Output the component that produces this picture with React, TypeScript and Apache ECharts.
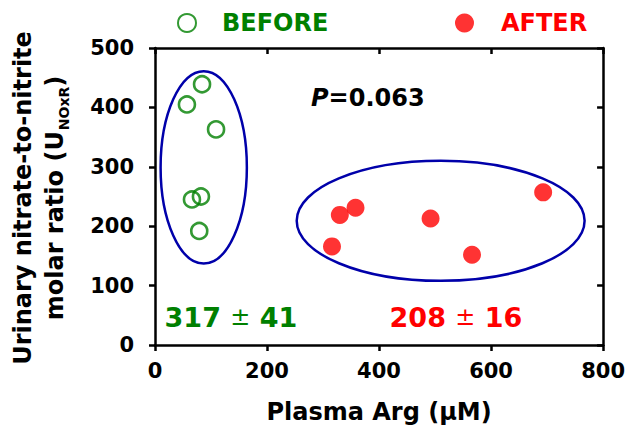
import React, { useEffect, useRef } from "react";
import * as echarts from "echarts";

// ---- Data ----
const beforeArg = [84, 57, 109, 66, 82, 79];
const beforeRatio = [439, 405, 363, 245, 250, 192];
const afterArg = [330, 358, 316, 492, 566, 693];
const afterRatio = [219, 231, 166, 213, 152, 257];

// Group ellipses: center x, center y, radius x, radius y (data units)
const ellipseCx = [87, 510];
const ellipseCy = [299, 209];
const ellipseRx = [77, 257];
const ellipseRy = [162, 101];

const xMin = 0;
const xMax = 800;
const xStep = 200;
const yMin = 0;
const yMax = 500;
const yStep = 100;

const beforeMean = "317";
const beforeSem = "41";
const afterMean = "208";
const afterSem = "16";
const pValue = "0.063";

const GREEN = "#008000";
const RED = "#ff0000";
const BLUE = "#0000aa";
const FONT = "'DejaVu Sans', Verdana, sans-serif";

export default function App() {
  const ref = useRef<HTMLDivElement>(null);

  useEffect(() => {
    if (!ref.current) return;
    const chart = echarts.init(ref.current, undefined, { renderer: "svg" });

    const axisLine = { show: true, onZero: false, lineStyle: { color: "#000", width: 2.5 } };
    const tickStyle = { color: "#000", width: 2.5 };
    const labelStyle = { color: "#000", fontSize: 21, fontWeight: "bold", fontFamily: FONT };

    const ellipseData = ellipseCx.map((cx, i) => [cx, ellipseCy[i], ellipseRx[i], ellipseRy[i]]);

    chart.setOption({
      animation: false,
      backgroundColor: "#fff",
      grid: { left: 155, right: 23, top: 48, bottom: 82, containLabel: false },
      legend: [
        {
          data: [{ name: "BEFORE", textStyle: { color: GREEN } }],
          left: 177,
          top: 11,
          padding: 0,
          itemWidth: 18,
          itemHeight: 18,
          textStyle: { fontSize: 24, fontWeight: "bold", fontFamily: FONT, padding: [0, 0, 0, 21] },
        },
        {
          data: [{ name: "AFTER", textStyle: { color: RED } }],
          left: 455,
          top: 11,
          padding: 0,
          itemWidth: 19,
          itemHeight: 19,
          textStyle: { fontSize: 24, fontWeight: "bold", fontFamily: FONT, padding: [0, 0, 0, 22] },
        },
      ],
      xAxis: [
        {
          type: "value",
          position: "bottom",
          min: xMin,
          max: xMax,
          interval: xStep,
          axisLine,
          axisTick: { show: true, inside: false, length: 6, lineStyle: tickStyle },
          axisLabel: { ...labelStyle, margin: 15 },
          splitLine: { show: false },
          name: "Plasma Arg (μM)",
          nameLocation: "middle",
          nameGap: 55,
          nameTextStyle: { color: "#000", fontSize: 24, fontWeight: "bold", fontFamily: FONT },
        },
        {
          type: "value",
          position: "top",
          min: xMin,
          max: xMax,
          interval: xStep,
          axisLine,
          axisTick: { show: true, inside: true, length: 6, lineStyle: tickStyle },
          axisLabel: { show: false },
          splitLine: { show: false },
        },
      ],
      yAxis: [
        {
          type: "value",
          position: "left",
          min: yMin,
          max: yMax,
          interval: yStep,
          axisLine,
          axisTick: { show: true, inside: false, length: 6, lineStyle: tickStyle },
          axisLabel: { ...labelStyle, margin: 21 },
          splitLine: { show: false },
        },
        {
          type: "value",
          position: "right",
          min: yMin,
          max: yMax,
          interval: yStep,
          axisLine,
          axisTick: { show: true, inside: true, length: 6, lineStyle: tickStyle },
          axisLabel: { show: false },
          splitLine: { show: false },
        },
      ],
      series: [
        {
          type: "custom",
          name: "groups",
          xAxisIndex: 0,
          yAxisIndex: 0,
          silent: true,
          z: 1,
          data: ellipseData,
          renderItem: (params: any, api: any) => {
            const c = api.coord([api.value(0), api.value(1)]);
            const s = api.size([api.value(2), api.value(3)]);
            return {
              type: "ellipse",
              shape: { cx: c[0], cy: c[1], rx: s[0], ry: s[1] },
              style: { fill: "none", stroke: BLUE, lineWidth: 2.5 },
            };
          },
        },
        {
          type: "scatter",
          name: "BEFORE",
          xAxisIndex: 0,
          yAxisIndex: 0,
          z: 3,
          symbol: "circle",
          symbolSize: 16,
          itemStyle: { color: "rgba(255,255,255,0)", borderColor: GREEN, borderWidth: 2.6 },
          data: beforeArg.map((x, i) => [x, beforeRatio[i]]),
        },
        {
          type: "scatter",
          name: "AFTER",
          xAxisIndex: 0,
          yAxisIndex: 0,
          z: 3,
          symbol: "circle",
          symbolSize: 18,
          itemStyle: { color: RED },
          data: afterArg.map((x, i) => [x, afterRatio[i]]),
        },
      ],
      graphic: [
        {
          type: "text",
          x: 39,
          y: 198,
          rotation: Math.PI / 2,
          style: {
            text: "{a|Urinary nitrate-to-nitrite}\n{a|molar ratio (U}{s|NOxR}{a|)}",
            align: "center",
            verticalAlign: "middle",
            fill: "#000",
            rich: {
              a: { fontSize: 24, fontWeight: "bold", fontFamily: FONT, fill: "#000", lineHeight: 32 },
              s: {
                fontSize: 14,
                fontWeight: "bold",
                fontFamily: FONT,
                fill: "#000",
                lineHeight: 14,
                verticalAlign: "bottom",
                padding: [6, 0, 0, 1],
              },
            },
          },
        },
        {
          type: "text",
          x: 311,
          y: 98,
          style: {
            text: "{i|P}{b|=" + pValue + "}",
            align: "left",
            verticalAlign: "middle",
            rich: {
              i: { fontSize: 24, fontWeight: "bold", fontStyle: "italic", fontFamily: FONT, fill: "#000" },
              b: { fontSize: 24, fontWeight: "bold", fontFamily: FONT, fill: "#000" },
            },
          },
        },
        {
          type: "text",
          x: 231,
          y: 317,
          style: {
            text: "{b|" + beforeMean + " }{p|±}{b| " + beforeSem + "}",
            align: "center",
            verticalAlign: "middle",
            rich: {
              b: { fontSize: 27, fontWeight: "bold", fontFamily: FONT, fill: GREEN },
              p: { fontSize: 24, fontWeight: "normal", fontFamily: FONT, fill: GREEN },
            },
          },
        },
        {
          type: "text",
          x: 456,
          y: 317,
          style: {
            text: "{b|" + afterMean + " }{p|±}{b| " + afterSem + "}",
            align: "center",
            verticalAlign: "middle",
            rich: {
              b: { fontSize: 27, fontWeight: "bold", fontFamily: FONT, fill: RED },
              p: { fontSize: 24, fontWeight: "normal", fontFamily: FONT, fill: RED },
            },
          },
        },
      ],
    });

    return () => chart.dispose();
  }, []);

  return (
    <div
      ref={ref}
      style={{ position: "absolute", left: 0, top: 0, width: 628, height: 429, background: "#fff" }}
    />
  );
}
